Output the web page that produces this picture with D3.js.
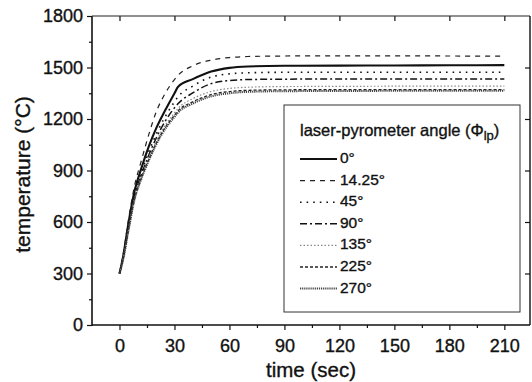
<!DOCTYPE html>
<html>
<head>
<meta charset="utf-8">
<script src="https://cdn.jsdelivr.net/npm/d3@7"></script>
<style>
  html, body { margin: 0; padding: 0; background: #fff; }
  svg { display: block; }
  text { font-family: "Liberation Sans", Arial, sans-serif; fill: #111; stroke: #111; stroke-width: 0.35px; }
</style>
</head>
<body>
<svg id="chart" width="532" height="382"></svg>
<script>
// Sample times (s)
const time = [0, 2, 5, 8, 12, 16, 20, 25, 30, 32, 40, 50, 60, 70, 90, 120, 150, 180, 210];

// Temperature (°C) recorded for each laser-pyrometer angle
const temp0    = [300, 400, 600, 770, 915, 1040, 1145, 1252, 1350, 1388, 1432, 1476, 1498, 1506, 1510, 1511, 1512, 1513, 1514];
const temp1425 = [300, 410, 620, 800, 960, 1110, 1240, 1350, 1430, 1455, 1510, 1543, 1558, 1564, 1567, 1568, 1568, 1567, 1566];
const temp45   = [300, 395, 585, 750, 890, 1010, 1110, 1215, 1300, 1330, 1392, 1444, 1463, 1469, 1472, 1472, 1472, 1472, 1472];
const temp90   = [300, 390, 575, 740, 878, 990, 1088, 1188, 1265, 1290, 1352, 1406, 1424, 1430, 1432, 1433, 1433, 1433, 1433];
const temp135  = [300, 385, 565, 730, 865, 975, 1068, 1165, 1235, 1262, 1318, 1360, 1378, 1385, 1389, 1390, 1391, 1391, 1391];
const temp225  = [300, 383, 560, 725, 858, 965, 1058, 1152, 1222, 1248, 1300, 1342, 1360, 1367, 1370, 1371, 1371, 1371, 1371];
const temp270  = [300, 380, 555, 720, 852, 958, 1050, 1143, 1212, 1238, 1290, 1332, 1350, 1358, 1362, 1363, 1364, 1364, 1364];

const seriesLabels = ["0°", "14.25°", "45°", "90°", "135°", "225°", "270°"];
const seriesValues = [temp0, temp1425, temp45, temp90, temp135, temp225, temp270];

const xTicks = [0, 30, 60, 90, 120, 150, 180, 210];
const xMinorTicks = [15, 45, 75, 105, 135, 165, 195];
const yTicks = [0, 300, 600, 900, 1200, 1500, 1800];
const yMinorTicks = [150, 450, 750, 1050, 1350, 1650];

// Line styles per series
const styles = [
  { stroke: "#111", width: 2.1, dash: null },
  { stroke: "#222", width: 1.2, dash: "5,5" },
  { stroke: "#111", width: 1.6, dash: "1.6,5" },
  { stroke: "#111", width: 1.5, dash: "7,3,2,3" },
  { stroke: "#8a8a8a", width: 1.2, dash: "1.5,2" },
  { stroke: "#222", width: 1.3, dash: "3,2" },
  { stroke: "#444", width: 2.0, dash: "1.2,0.9" }
];

const svg = d3.select("#chart");
const mLeft = 92, mRight = 530, mTop = 16, mBottom = 325;

const x = d3.scaleLinear().domain([-15, 224]).range([mLeft, mRight]);
const y = d3.scaleLinear().domain([0, 1800]).range([mBottom, mTop]);

// Axis cosmetics shared by every axis group
const axisStyle = g => {
  g.select(".domain").remove();
  g.selectAll(".tick line").attr("stroke", "#111").attr("stroke-width", 1.2);
  g.selectAll(".tick text").attr("fill", "#111").style("font-family", "'Liberation Sans', Arial, sans-serif");
};

// bottom axis: major + minor
svg.append("g").attr("transform", `translate(0,${mBottom})`)
  .call(d3.axisBottom(x).tickValues(xTicks).tickSize(5).tickPadding(9).tickFormat(d3.format("d")))
  .call(axisStyle)
  .call(g => g.selectAll(".tick text").style("font-size", "18px"));
svg.append("g").attr("transform", `translate(0,${mBottom})`)
  .call(d3.axisBottom(x).tickValues(xMinorTicks).tickSize(3).tickFormat(""))
  .call(axisStyle);

// left axis: major + minor
svg.append("g").attr("transform", `translate(${mLeft},0)`)
  .call(d3.axisLeft(y).tickValues(yTicks).tickSize(5).tickPadding(4).tickFormat(d3.format("d")))
  .call(axisStyle)
  .call(g => g.selectAll(".tick text").style("font-size", "18px"));
svg.append("g").attr("transform", `translate(${mLeft},0)`)
  .call(d3.axisLeft(y).tickValues(yMinorTicks).tickSize(3).tickFormat(""))
  .call(axisStyle);

// top and right mirror axes with inward ticks
svg.append("g").attr("transform", `translate(0,${mTop})`)
  .call(d3.axisTop(x).tickValues(xTicks).tickSize(-5).tickFormat(""))
  .call(axisStyle);
svg.append("g").attr("transform", `translate(${mRight},0)`)
  .call(d3.axisRight(y).tickValues(yTicks.filter(v => v > 0 && v < 1800)).tickSize(-5).tickFormat(""))
  .call(axisStyle);

// frame lines
svg.append("line").attr("x1", mLeft).attr("x2", mLeft).attr("y1", mTop).attr("y2", mBottom + 1)
  .attr("stroke", "#111").attr("stroke-width", 1.6);
svg.append("line").attr("x1", mLeft).attr("x2", mRight).attr("y1", mBottom).attr("y2", mBottom)
  .attr("stroke", "#111").attr("stroke-width", 1.6);
svg.append("line").attr("x1", mLeft).attr("x2", mRight).attr("y1", mTop).attr("y2", mTop)
  .attr("stroke", "#222").attr("stroke-width", 1.1);
svg.append("line").attr("x1", mRight).attr("x2", mRight).attr("y1", mTop).attr("y2", mBottom)
  .attr("stroke", "#111").attr("stroke-width", 1.4);

// Axis titles
svg.append("text")
  .attr("x", (mLeft + mRight) / 2).attr("y", 377)
  .attr("text-anchor", "middle").style("font-size", "20.5px")
  .text("time (sec)");
svg.append("text")
  .attr("transform", `translate(30,${(mTop + mBottom) / 2 + 4}) rotate(-90)`)
  .attr("text-anchor", "middle").style("font-size", "21px")
  .text("temperature (°C)");

// Data curves
const line = d3.line()
  .x((d, i) => x(time[i]))
  .y(d => y(d))
  .curve(d3.curveMonotoneX);

const curves = svg.append("g").attr("fill", "none");
seriesValues.forEach((vals, k) => {
  const s = styles[k];
  curves.append("path")
    .datum(vals)
    .attr("d", line)
    .attr("stroke", s.stroke)
    .attr("stroke-width", s.width)
    .attr("stroke-dasharray", s.dash)
    .attr("stroke-linejoin", "round");
});

// Legend
const lg = svg.append("g");
lg.append("rect")
  .attr("x", 284).attr("y", 105).attr("width", 236).attr("height", 207)
  .attr("fill", "#fff").attr("stroke", "#333").attr("stroke-width", 1);

const title = lg.append("text").attr("x", 300).attr("y", 136).style("font-size", "16.5px");
title.append("tspan").text("laser-pyrometer angle (Φ");
title.append("tspan").attr("dy", 4).style("font-size", "13px").text("lp");
title.append("tspan").attr("dy", -4).text(")");

seriesLabels.forEach((label, k) => {
  const s = styles[k];
  const base = 163 + k * 21.6;
  lg.append("line")
    .attr("x1", 300).attr("x2", 337)
    .attr("y1", base - 4).attr("y2", base - 4)
    .attr("stroke", s.stroke)
    .attr("stroke-width", s.width)
    .attr("stroke-dasharray", s.dash);
  lg.append("text")
    .attr("x", 340).attr("y", base)
    .style("font-size", "15.5px")
    .text(label);
});
</script>
</body>
</html>
